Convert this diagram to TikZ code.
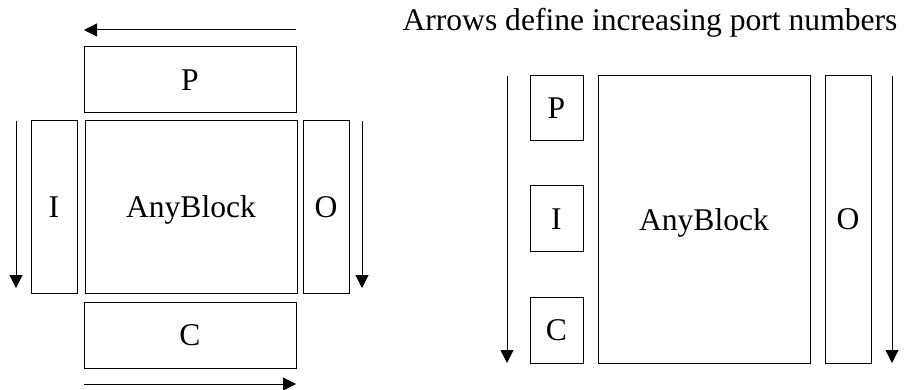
\documentclass[tikz,border=0pt]{standalone}
\usepackage{fontspec}
\setmainfont{Liberation Serif}
\usetikzlibrary{arrows.meta}

\tikzset{every picture/.style={line width=1pt}}
\tikzset{
  portbox/.style={draw, rectangle, inner sep=0pt, text depth=0pt, font=\fontsize{31.6pt}{38pt}\selectfont},
  portarrow/.style={-{Triangle[length=13pt,width=13pt]}}
}

\begin{document}
\begin{tikzpicture}[x=1pt,y=1pt,yscale=-1,xscale=1]
\useasboundingbox (0,0) rectangle (905,390);

% Text Node
\node [anchor=base, font=\fontsize{31.6pt}{38pt}\selectfont] (title) at (650,31) {Arrows define increasing port numbers};

%Shape: Rectangle [left block]
\node [portbox, minimum width=212pt, minimum height=66pt] (lP) at (190,80) {P};
\node [portbox, minimum width=46pt, minimum height=172pt] (lI) at (54,207) {I};
\node [portbox, minimum width=212pt, minimum height=172pt] (lAny) at (191,207) {AnyBlock};
\node [portbox, minimum width=46pt, minimum height=172pt] (lO) at (326,207) {O};
\node [portbox, minimum width=212pt, minimum height=66pt] (lC) at (190,335) {C};

%Shape: Rectangle [right block]
\node [portbox, minimum width=53pt, minimum height=65pt] (rP) at (556.5,108.5) {P};
\node [portbox, minimum width=53pt, minimum height=66pt] (rI) at (556.5,219) {I};
\node [portbox, minimum width=53pt, minimum height=66pt] (rC) at (556.5,330) {C};
\node [portbox, minimum width=212pt, minimum height=287pt] (rAny) at (704,219.5) {AnyBlock};
\node [portbox, minimum width=46pt, minimum height=287pt] (rO) at (848,219.5) {O};

% Arrow ends
\coordinate (lPs) at (296,30);  \coordinate (lPe) at (84,30);
\coordinate (lIs) at (16,121);  \coordinate (lIe) at (16,288);
\coordinate (lOs) at (362,121); \coordinate (lOe) at (362,288);
\coordinate (lCs) at (84,384);  \coordinate (lCe) at (296,384);
\coordinate (rLs) at (507,76);  \coordinate (rLe) at (507,363);
\coordinate (rRs) at (892,76);  \coordinate (rRe) at (892,363);

%Straight Lines
\draw [portarrow] (lPs) -- (lPe);
\draw [portarrow] (lIs) -- (lIe);
\draw [portarrow] (lOs) -- (lOe);
\draw [portarrow] (lCs) -- (lCe);
\draw [portarrow] (rLs) -- (rLe);
\draw [portarrow] (rRs) -- (rRe);
\end{tikzpicture}
\end{document}
